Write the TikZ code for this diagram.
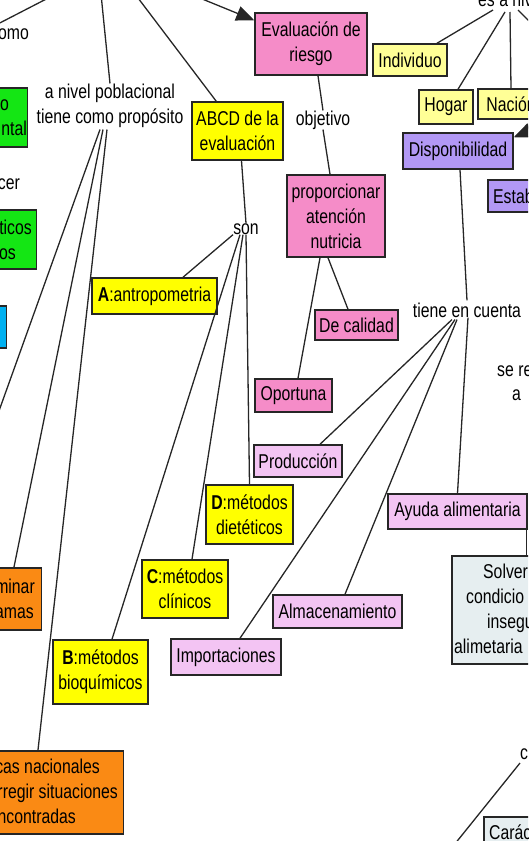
\documentclass[tikz,border=0pt]{standalone}
\usepackage{fontspec}
\setmainfont[FakeStretch=0.79]{Liberation Sans}
\usetikzlibrary{arrows.meta,calc}
\definecolor{cyel}{RGB}{255,255,0}
\definecolor{clyel}{RGB}{255,255,150}
\definecolor{cpink}{RGB}{245,140,200}
\definecolor{clav}{RGB}{243,196,243}
\definecolor{cpurp}{RGB}{178,152,245}
\definecolor{cgreen}{RGB}{20,230,20}
\definecolor{cblue}{RGB}{0,176,240}
\definecolor{corange}{RGB}{250,138,20}
\definecolor{cgrey}{RGB}{230,238,240}
\begin{document}
\begin{tikzpicture}[x=1pt,y=-1pt,font=\fontsize{20}{25}\selectfont,
  cbox/.style={draw=black!85,line width=1.5pt,inner sep=0pt,align=center},
  lbl/.style={inner sep=0pt,align=center},
  ptxt/.style={inner sep=0pt},
  conn/.style={line width=1.3pt,draw=black!85},
  arr/.style={line width=1.3pt,draw=black!85,-{Triangle[length=18pt,width=15pt]}}]
\useasboundingbox (0,0) rectangle (528,841);
\clip (0,0) rectangle (528,841);

% ---------- off-picture end points ----------
\coordinate (topA) at (56,-6);
\coordinate (topB) at (101,-6);
\coordinate (topC) at (135,-6);
\coordinate (topD) at (190,-6);
\coordinate (offL) at (-5,422);
\coordinate (offR1) at (560,118);
\coordinate (offR2) at (545,37);
\coordinate (offB) at (450,850);

% ---------- partial boxes at the left edge ----------
\node[cbox,fill=cgreen,minimum width=60pt,minimum height=59pt,anchor=north east] (green1) at (28,87) {};
\node[ptxt,anchor=base east] (g1a) at (9,110) {o};
\node[ptxt,anchor=base east] (g1b) at (27,135) {ntal};
\node[cbox,fill=cgreen,minimum width=60pt,minimum height=59pt,anchor=north east] (green2) at (37,209) {};
\node[ptxt,anchor=base east] (g2a) at (32,234) {ticos};
\node[ptxt,anchor=base east] (g2b) at (16,259) {os};
\node[cbox,fill=cblue,minimum width=40pt,minimum height=42pt,anchor=north east] (blue1) at (7,305) {};
\node[cbox,fill=corange,minimum width=70pt,minimum height=62pt,anchor=north east] (orange1) at (42,567) {};
\node[ptxt,anchor=base east] (o1a) at (35,593) {minar};
\node[ptxt,anchor=base east] (o1b) at (34,618) {amas};
\node[cbox,fill=corange,minimum width=170pt,minimum height=83pt,anchor=north east] (orange2) at (124,750) {};
\node[ptxt,anchor=base east] (o2a) at (100,773.5) {cas nacionales};
\node[ptxt,anchor=base east] (o2b) at (118,798.5) {rregir situaciones};
\node[ptxt,anchor=base east] (o2c) at (76,823.5) {ncontradas};
\node[ptxt,anchor=base east] (omo) at (29,39) {omo};
\node[ptxt,anchor=base east] (cer) at (20,189) {cer};

% ---------- centre ----------
\node[lbl] (nivel) at (110,105.5) {a nivel poblacional\\tiene como propósito};
\node[cbox,fill=cpink,minimum width=112pt,minimum height=62pt] (eval) at (311,44) {Evaluación de\\riesgo};
\node[lbl] (obj) at (323,120) {objetivo};
\node[cbox,fill=cpink,minimum width=98pt,minimum height=82pt] (prop) at (336,216) {proporcionar\\atención\\nutricia};
\node[cbox,fill=cpink,minimum width=83pt,minimum height=30pt] (decal) at (356.5,325) {De calidad};
\node[cbox,fill=cpink,minimum width=77pt,minimum height=33pt] (oport) at (293.5,395.5) {Oportuna};

\node[cbox,fill=cyel,minimum width=91pt,minimum height=58pt] (abcd) at (237.5,131) {ABCD de la\\evaluación};
\node[lbl] (son) at (246,229) {son};
\node[cbox,fill=cyel,minimum width=125pt,minimum height=36pt] (antro) at (154.5,296) {\textbf{A}:antropometria};
\node[cbox,fill=cyel,minimum width=87pt,minimum height=59pt] (diet) at (249.5,514.5) {\textbf{D}:métodos\\dietéticos};
\node[cbox,fill=cyel,minimum width=86pt,minimum height=58pt] (clin) at (185,589) {\textbf{C}:métodos\\clínicos};
\node[cbox,fill=cyel,minimum width=95pt,minimum height=64pt] (bioq) at (100.5,672) {\textbf{B}:métodos\\bioquímicos};

% ---------- right ----------
\node[ptxt,anchor=base west] (esa) at (478,6) {es a niv};
\node[cbox,fill=clyel,minimum width=74pt,minimum height=32pt] (indiv) at (410,60) {Individuo};
\node[cbox,fill=clyel,minimum width=54pt,minimum height=34pt] (hogar) at (446,107) {Hogar};
\node[cbox,fill=clyel,minimum width=66pt,minimum height=30pt] (nacion) at (511,104) {Nación};
\node[cbox,fill=cpurp,minimum width=110pt,minimum height=36pt] (disp) at (458,151) {Disponibilidad};
\node[cbox,fill=cpurp,minimum width=90pt,minimum height=32pt,anchor=west] (estab) at (487,196) {};
\node[ptxt,anchor=base west] (estabt) at (493,203) {Estab};
\node[lbl] (tiene) at (467,310) {tiene en cuenta};
\node[ptxt,anchor=base west] (sere) at (497,376) {se re};
\node[ptxt,anchor=base west] (serea) at (512,400) {a};

\node[cbox,fill=clav,minimum width=88pt,minimum height=32pt] (prod) at (298,461) {Producción};
\node[cbox,fill=clav,minimum width=139pt,minimum height=35pt] (ayuda) at (457.5,511.5) {Ayuda alimentaria};
\node[cbox,fill=clav,minimum width=129pt,minimum height=33pt] (alm) at (337.5,611.5) {Almacenamiento};
\node[cbox,fill=clav,minimum width=110pt,minimum height=36pt] (imp) at (226,657) {Importaciones};

\node[cbox,fill=cgrey,minimum width=120pt,minimum height=108pt,anchor=north west] (solv) at (451,555) {};
\node[ptxt,anchor=base west] (s1) at (483,578.5) {Solver};
\node[ptxt,anchor=base west] (s2) at (466,603.5) {condicio};
\node[ptxt,anchor=base west] (s3) at (487,628.5) {insegu};
\node[ptxt,anchor=base west] (s4) at (454,653.5) {alimetaria};

\node[ptxt,anchor=base west] (cl) at (520,759) {c};
\node[cbox,fill=cgrey,minimum width=80pt,minimum height=50pt,anchor=north west] (carac) at (483,816) {};
\node[ptxt,anchor=base west] (caract) at (489,839) {Carác};

% ---------- connectors ----------
\draw[conn] (topA) -- ($(omo.north west)+(-4,-2)$);
\draw[conn] (topB) -- (nivel.north);
\draw[conn] (topC) -- ($(abcd.north west)+(25,0)$);
\draw[arr] (topD) -- ($(eval.north west)+(0,8)$);

\draw[conn] ($(nivel.south)+(-10,2)$) -- (offL);
\draw[conn] ($(nivel.south)+(-7,2)$) -- ($(orange1.north east)+(-28,0)$);
\draw[conn] ($(nivel.south)+(-3,2)$) -- ($(orange2.north east)+(-86,0)$);

\draw[conn] (eval.south) ++(7,0) -- (obj.north);
\draw[conn] (obj.south) -- ($(prop.north)+(-6,0)$);
\draw[conn] ($(prop.south)+(-8,0)$) -- ($(decal.north)+(-8.5,0)$);
\draw[conn] ($(prop.south)+(-16,0)$) -- ($(oport.north)+(4.5,0)$);

\draw[conn] ($(abcd.south)+(4,0)$) -- (son.north);
\draw[conn] ($(son.south)+(-13,0)$) -- ($(antro.north)+(28.5,0)$);
\draw[conn] ($(son.south)+(-6,0)$) -- ($(bioq.north)+(11.5,0)$);
\draw[conn] ($(son.south)+(-3,0)$) -- ($(clin.north)+(7,0)$);
\draw[conn] (son.south) -- (diet.north);

\draw[conn] ($(esa.base west)+(15,4)$) -- ($(indiv.north)+(27,0)$);
\draw[conn] ($(esa.base west)+(27,6)$) -- ($(hogar.north)+(12,0)$);
\draw[conn] ($(esa.base west)+(32,6)$) -- (nacion.north);
\draw[conn] ($(esa.base west)+(40,4)$) -- (offR2);
\draw[arr] (offR1) -- ($(disp.north east)+(0,5)$);

\draw[conn] ($(disp.south)+(2,0)$) -- ($(tiene.north)+(0,-2)$);
\draw[conn] ($(tiene.south)+(1,0)$) -- (ayuda.north);
\draw[conn] ($(tiene.south)+(-15,2)$) -- ($(prod.north)+(22,0)$);
\draw[conn] ($(tiene.south)+(-12,2)$) -- ($(imp.north)+(14,0)$);
\draw[conn] ($(tiene.south)+(-10,2)$) -- ($(alm.north)+(7.5,0)$);
\draw[conn] ($(ayuda.south east)+(-1.5,0)$) -- ($(ayuda.south east)+(-1.5,26)$);
\draw[conn] ($(cl.base west)+(0,4)$) -- (offB);
\end{tikzpicture}
\end{document}
